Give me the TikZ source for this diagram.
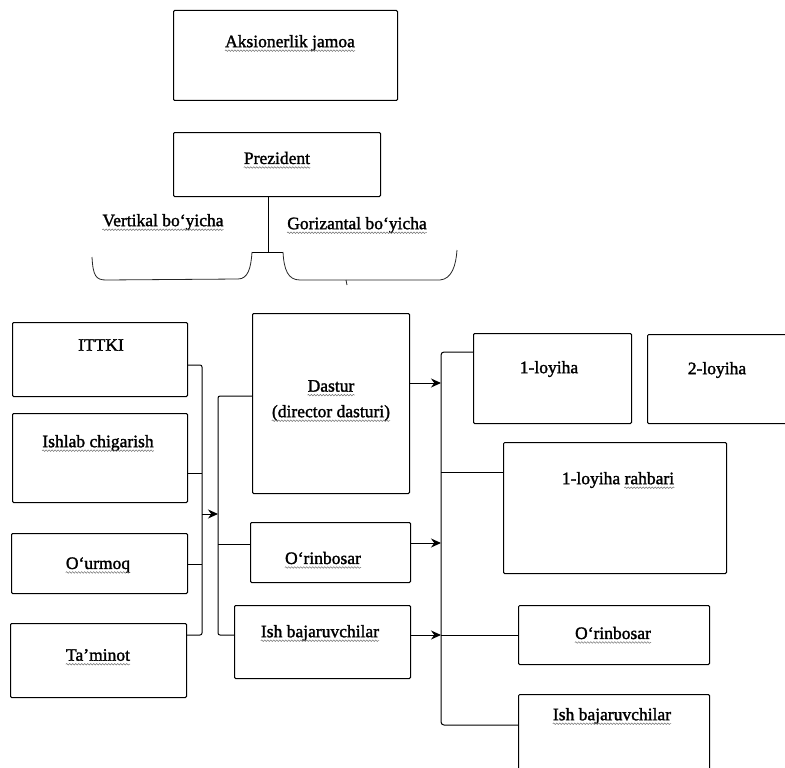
\documentclass[tikz,border=0pt]{standalone}
\usepackage{fontspec}
\setmainfont{Liberation Serif}
\newfontfamily\labelfont{Liberation Serif}[FakeBold=1.6]
\usetikzlibrary{arrows.meta,decorations.pathmorphing}
\tikzset{
  box/.style={draw, line width=1pt, rounded corners=1.2pt, inner sep=0pt, anchor=north west},
  lbl/.style={inner sep=0pt, font=\labelfont\fontsize{17.5}{21}\selectfont, align=center},
  wire/.style={line width=1pt},
  feed/.style={line width=1pt, -{Stealth[length=10pt,width=9pt]}},
  brace/.style={line width=0.8pt, black!85},
  squiggly/.style={black!55, line width=0.5pt, decorate,
    decoration={snake, segment length=3pt, amplitude=0.8pt}}
}
% grey spell-check squiggle under the base line of a text node
\newcommand\squigunder[1]{\draw[squiggly] ([yshift=-3.5pt]#1.base west) -- ([yshift=-3.5pt]#1.base east);}
\begin{document}
\begin{tikzpicture}[x=1pt,y=-1pt]
\useasboundingbox (0,0) rectangle (785,768);
\clip (0,0) rectangle (785,768);

% top of the hierarchy
\node[box, minimum width=224pt, minimum height=90pt] (aks) at (173,10) {};
\node[lbl] (taks) at (290,43) {Aksionerlik jamoa};
\node[box, minimum width=207pt, minimum height=64pt] (prez) at (173,132) {};
\node[lbl] (tprez) at (277,158) {Prezident};

% vertical / horizontal split
\coordinate (hub) at (268,252);
\coordinate (hubL) at (252,252);
\coordinate (hubR) at (283,252);
\draw[wire] (prez.south -| hub) -- (hub);
\draw[wire] (hubL) -- (hubR);
\draw[brace] (92,257) .. controls (93,276) and (96,280) .. (106,280) -- (238,279) .. controls (248,279) and (251,268) .. (hubL);
\draw[brace] (hubR) .. controls (284,270) and (288,280) .. (300,280) -- (440,280) .. controls (452,279) and (456,265) .. (457,250);
\draw[brace] (346,280) -- (347,285);
\node[lbl] (tvert) at (163,222) {Vertikal bo‘yicha};
\node[lbl] (tgor) at (357,225) {Gorizantal bo‘yicha};

% functional departments
\node[box, minimum width=175pt, minimum height=74pt] (ittki) at (12,322) {};
\node[lbl] (tittki) at (101,345) {ITTKI};
\node[box, minimum width=175pt, minimum height=89pt] (ishlab) at (12,413) {};
\node[lbl] (tishlab) at (98,443) {Ishlab chigarish};
\node[box, minimum width=176pt, minimum height=60pt] (ourmoq) at (11,533) {};
\node[lbl] (tourmoq) at (98,565) {O‘urmoq};
\node[box, minimum width=176pt, minimum height=74pt] (taminot) at (10,623) {};
\node[lbl] (ttaminot) at (98,655) {Ta’minot};

% programme management
\node[box, minimum width=157pt, minimum height=180pt] (dastur) at (252,313) {};
\node[lbl] (tdastur) at (331,386) {Dastur};
\node[lbl] (tdirector) at (331,413) {(director dasturi)};
\node[box, minimum width=160pt, minimum height=60pt] (orinM) at (250,522) {};
\node[lbl] (torinM) at (323,558) {O‘rinbosar};
\node[box, minimum width=176pt, minimum height=73pt] (ishM) at (234,605) {};
\node[lbl] (tishM) at (320,633) {Ish bajaruvchilar};

% projects
\node[box, minimum width=158pt, minimum height=90pt] (loy1) at (473,333) {};
\node[lbl] (tloy1) at (549,369) {1-loyiha};
\node[box, minimum width=150pt, minimum height=89pt] (loy2) at (647,334) {};
\node[lbl] (tloy2) at (717,370) {2-loyiha};
\node[box, minimum width=223pt, minimum height=131pt] (rahb) at (503,442) {};
\node[lbl] (trahb) at (618,480) {1-loyiha rahbari};
\node[box, minimum width=191pt, minimum height=59pt] (orinR) at (518,605) {};
\node[lbl] (torinR) at (613,633) {O‘rinbosar};
\node[box, minimum width=191pt, minimum height=100pt] (ishR) at (518,694) {};
\node[lbl] (tishR) at (612,716) {Ish bajaruvchilar};

% spell-check squiggles
\foreach \t in {taks,tprez,tvert,tgor,tishlab,tourmoq,ttaminot,tdastur,tdirector,torinM,tishM,torinR,tishR}{\squigunder{\t}}
\draw[squiggly] ([xshift=-50pt,yshift=-3.5pt]trahb.base east) -- ([yshift=-3.5pt]trahb.base east);

% bus lines
\coordinate (lb1) at (202,365);
\coordinate (lb2) at (202,635);
\coordinate (mb1) at (218,396);
\coordinate (mb2) at (218,635);
\coordinate (rb1) at (441,352);
\coordinate (rb2) at (441,725);

\draw[wire, rounded corners=2pt] (ittki.east |- lb1) -- (lb1) -- (lb2) -- (taminot.east |- lb2);
\draw[wire] (ishlab.east |- 0,473) -- (lb1 |- 0,473);
\draw[wire] (ourmoq.east |- 0,564) -- (lb1 |- 0,564);
\draw[feed] (lb1 |- 0,514) -- (mb1 |- 0,514);

\draw[wire, rounded corners=2pt] (dastur.west |- mb1) -- (mb1) -- (mb2) -- (ishM.west |- mb2);
\draw[wire] (mb1 |- 0,544) -- (orinM.west |- 0,544);

\draw[feed] (dastur.east |- 0,383) -- (rb1 |- 0,383);
\draw[feed] (orinM.east |- 0,543) -- (rb1 |- 0,543);
\draw[feed] (ishM.east |- 0,635) -- (rb1 |- 0,635);

\draw[wire, rounded corners=3pt] (loy1.west |- rb1) -- (rb1) -- (rb2) -- (ishR.west |- rb2);
\draw[wire] (rb1 |- 0,472) -- (rahb.west |- 0,472);
\draw[wire] (rb1 |- 0,635) -- (orinR.west |- 0,635);
\end{tikzpicture}
\end{document}
